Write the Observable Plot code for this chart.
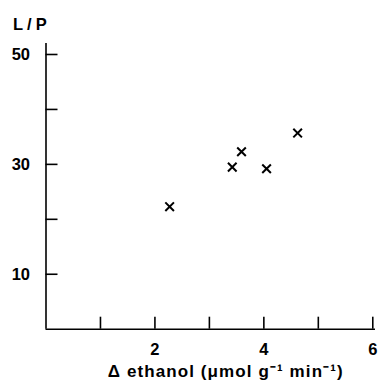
<!DOCTYPE html>
<html>
<head>
<meta charset="utf-8">
<script src="https://cdn.jsdelivr.net/npm/d3@7"></script>
<script src="https://cdn.jsdelivr.net/npm/@observablehq/plot@0.6"></script>
<style>
  html, body { margin: 0; padding: 0; background: #fff; }
  .ytitle text { letter-spacing: 4px; }
  .xtitle text { letter-spacing: 1.1px; }
</style>
</head>
<body>
<div id="chart"></div>
<script>
// Data
const ethanol = [2.27, 3.42, 3.59, 4.05, 4.62];
const lp      = [22.3, 29.5, 32.3, 29.2, 35.7];

const xTicks = [1, 2, 3, 4, 5, 6];
const xTickLabels = [2, 4, 6];
const yTicks = [10, 20, 30, 40, 50];
const yTickLabels = [10, 30, 50];

const xTitle = "Δ ethanol (μmol g⁻¹ min⁻¹)";
const yTitle = "L/P";

const points = ethanol.map((x, i) => ({x, y: lp[i]}));

const font = "Liberation Sans, Arial, sans-serif";

const chart = Plot.plot({
  width: 379,
  height: 388,
  marginLeft: 45.5,
  marginRight: 4,
  marginTop: 43,
  marginBottom: 59.3,
  style: {fontFamily: font, background: "#fff", color: "#000"},
  x: {domain: [0, 6.05], axis: null},
  y: {domain: [0, 52], axis: null},
  marks: [
    // axis lines
    Plot.ruleX([0], {y1: 0, y2: 52, stroke: "#000", strokeWidth: 1.6}),
    Plot.ruleY([0], {x1: 0, x2: 6.05, stroke: "#000", strokeWidth: 1.6}),
    // inward ticks
    Plot.ruleY(yTicks, {y: d => d, x1: 0, x2: 0, insetRight: -12, stroke: "#000", strokeWidth: 1.6}),
    Plot.ruleX(xTicks, {x: d => d, y1: 0, y2: 0, insetBottom: 12, stroke: "#000", strokeWidth: 1.6}),
    // tick labels
    Plot.axisY(yTickLabels, {label: null, tickSize: 0, tickPadding: 16, fontSize: 16.5, fontWeight: "bold", fill: "#000"}),
    Plot.axisX(xTickLabels, {label: null, tickSize: 0, tickPadding: 14, fontSize: 16.5, fontWeight: "bold", fill: "#000"}),
    // titles
    Plot.text([yTitle], {frameAnchor: "top-left", textAnchor: "start", dx: -33, dy: -25, fontSize: 16.5, fontWeight: "bold", fill: "#000"}),
    Plot.text([xTitle], {frameAnchor: "bottom", dx: 15, dy: 48, fontSize: 17, fontWeight: "bold", fill: "#000"}),
    // data
    Plot.dot(points, {x: "x", y: "y", symbol: "times", r: 4, stroke: "#000", strokeWidth: 2})
  ]
});
// tag the title groups so the CSS letter-spacing applies
d3.select(chart).selectAll("text").each(function() {
  const t = this.textContent;
  if (t === yTitle) this.parentNode.classList.add("ytitle");
  if (t === xTitle) this.parentNode.classList.add("xtitle");
});
document.getElementById("chart").appendChild(chart);
</script>
</body>
</html>
